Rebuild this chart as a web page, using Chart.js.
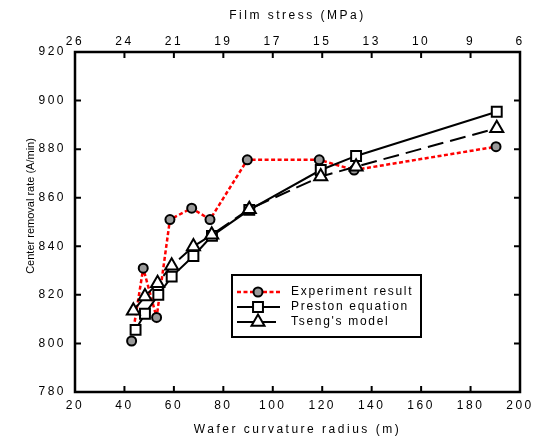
<!DOCTYPE html>
<html>
<head>
<meta charset="utf-8">
<title>Center removal rate vs wafer curvature radius</title>
<script src="https://cdn.jsdelivr.net/npm/chart.js"></script>
<style>
  body { margin: 0; background: #fff; }
</style>
</head>
<body>
<canvas id="rateChart" width="539" height="437"></canvas>
<script>
// tick labels
const radiusTicks = [20, 40, 60, 80, 100, 120, 140, 160, 180, 200];
const rateTicks = [780, 800, 820, 840, 860, 880, 900, 920];
const stressLabels = ['26', '24', '21', '19', '17', '15', '13', '10', '9', '6'];

// Experiment result
const expRadius = [42.9, 47.6, 53.0, 58.4, 67.2, 74.6, 89.7, 118.8, 132.9, 190.3];
const expRate = [801, 831, 810.7, 851, 855.7, 851, 875.6, 875.6, 871.4, 881];

// Preston equation
const prestonRadius = [44.5, 48.3, 53.7, 59.1, 67.9, 75.4, 90.5, 119.4, 133.7, 190.6];
const prestonRate = [805.6, 812.2, 820, 827.5, 836, 844.3, 855, 871.4, 877.2, 895.4];

// Tseng's model
const tsengRadius = [43.6, 48.3, 53.4, 59.1, 67.9, 75.3, 90.5, 119.4, 133.7, 190.6];
const tsengRate = [813.5, 819.3, 824.8, 832, 839.9, 844.7, 855.3, 868.7, 872.8, 888.6];

function toPoints(xs, ys) {
    return xs.map((x, i) => ({ x: x, y: ys[i] }));
}

const FONT = "'Liberation Sans', Arial, sans-serif";

// frame with inward ticks on all four sides
const framePlugin = {
    id: 'frame',
    afterDatasetsDraw(chart) {
        const ctx = chart.ctx;
        const a = chart.chartArea;
        const len = 6;
        ctx.save();
        ctx.strokeStyle = '#000';
        ctx.lineWidth = 2;
        ctx.beginPath();
        chart.scales.x.ticks.forEach(t => {
            const px = chart.scales.x.getPixelForValue(t.value);
            ctx.moveTo(px, a.bottom); ctx.lineTo(px, a.bottom - len);
        });
        chart.scales.x2.ticks.forEach(t => {
            const px = chart.scales.x2.getPixelForValue(t.value);
            ctx.moveTo(px, a.top); ctx.lineTo(px, a.top + len);
        });
        chart.scales.y.ticks.forEach(t => {
            const py = chart.scales.y.getPixelForValue(t.value);
            ctx.moveTo(a.left, py); ctx.lineTo(a.left + len, py);
            ctx.moveTo(a.right, py); ctx.lineTo(a.right - len, py);
        });
        ctx.stroke();
        ctx.lineWidth = 2.5;
        ctx.strokeRect(a.left, a.top, a.right - a.left, a.bottom - a.top);
        ctx.restore();
    }
};

// boxed legend inside the plot, plus the y title
const boxLegend = {
    id: 'boxLegend',
    afterDraw(chart) {
        const ctx = chart.ctx;
        const x0 = 232, y0 = 275, w = 189, h = 62;
        ctx.save();
        ctx.letterSpacing = '1.7px';
        ctx.fillStyle = '#fff';
        ctx.fillRect(x0, y0, w, h);
        ctx.strokeStyle = '#000';
        ctx.lineWidth = 2;
        ctx.strokeRect(x0, y0, w, h);
        chart.data.datasets.forEach((ds, i) => {
            const y = y0 + 17 + i * 15;
            ctx.save();
            ctx.strokeStyle = ds.borderColor;
            ctx.lineWidth = ds.borderWidth;
            ctx.setLineDash(ds.borderDash || []);
            ctx.beginPath();
            ctx.moveTo(x0 + 5, y);
            ctx.lineTo(x0 + 48, y);
            ctx.stroke();
            ctx.setLineDash([]);
            ctx.fillStyle = ds.pointBackgroundColor;
            ctx.strokeStyle = ds.pointBorderColor;
            ctx.lineWidth = ds.pointBorderWidth;
            Chart.helpers.drawPoint(ctx, { pointStyle: ds.pointStyle, radius: ds.pointRadius, rotation: 0, borderWidth: ds.pointBorderWidth }, x0 + 26, y);
            ctx.restore();
            ctx.fillStyle = '#000';
            ctx.font = '12px ' + FONT;
            ctx.textBaseline = 'middle';
            ctx.fillText(ds.label, x0 + 59, y);
        });

        ctx.letterSpacing = '0px';
        ctx.translate(31, 206);
        ctx.rotate(-Math.PI / 2);
        ctx.font = '11px ' + FONT;
        ctx.textAlign = 'center';
        ctx.textBaseline = 'middle';
        ctx.fillStyle = '#000';
        ctx.fillText('Center removal rate (A/min)', 0, 0);
        ctx.restore();
    }
};

// wide letter spacing like the original figure
const spacing = {
    id: 'spacing',
    beforeDraw(chart) { chart.ctx.letterSpacing = '2.5px'; },
    afterDraw(chart) { chart.ctx.letterSpacing = '0px'; }
};

const tickFont = { family: FONT, size: 12 };

new Chart(document.getElementById('rateChart'), {
    type: 'scatter',
    data: {
        datasets: [
            {
                label: 'Experiment result',
                data: toPoints(expRadius, expRate),
                showLine: true,
                borderColor: '#ff0000',
                borderWidth: 2.5,
                borderDash: [4, 2.5],
                pointStyle: 'circle',
                pointRadius: 4.5,
                pointBackgroundColor: '#9a9a9a',
                pointBorderColor: '#000',
                pointBorderWidth: 2,
                order: 3
            },
            {
                label: 'Preston equation',
                data: toPoints(prestonRadius, prestonRate),
                showLine: true,
                borderColor: '#000',
                borderWidth: 2,
                pointStyle: 'rect',
                pointRadius: 7,
                pointBackgroundColor: '#fff',
                pointBorderColor: '#000',
                pointBorderWidth: 2,
                order: 2
            },
            {
                label: "Tseng's model",
                data: toPoints(tsengRadius, tsengRate),
                showLine: true,
                borderColor: '#000',
                borderWidth: 2,
                borderDash: [16, 7],
                pointStyle: 'triangle',
                pointRadius: 7.5,
                pointBackgroundColor: '#fff',
                pointBorderColor: '#000',
                pointBorderWidth: 2,
                order: 1
            }
        ]
    },
    options: {
        responsive: false,
        animation: false,
        layout: { padding: { left: 0, right: 19, top: 0, bottom: 0 } },
        plugins: {
            legend: { display: false },
            tooltip: { enabled: false }
        },
        scales: {
            x: {
                type: 'linear',
                position: 'bottom',
                min: 20,
                max: 200,
                afterBuildTicks: s => { s.ticks = radiusTicks.map(v => ({ value: v })); },
                ticks: { font: tickFont, color: '#000', padding: 6, maxRotation: 0, autoSkip: false },
                grid: { display: false, drawTicks: false },
                border: { display: false },
                title: { display: true, text: 'Wafer curvature radius (m)', font: { family: FONT, size: 12 }, color: '#000', padding: { top: 0, bottom: 0 } },
                afterFit: s => { s.height = 45; }
            },
            x2: {
                type: 'linear',
                position: 'top',
                min: 20,
                max: 200,
                afterBuildTicks: s => { s.ticks = radiusTicks.map(v => ({ value: v })); },
                ticks: { font: tickFont, color: '#000', padding: 3, maxRotation: 0, autoSkip: false,
                         callback: (v, i) => stressLabels[i] },
                grid: { display: false, drawTicks: false },
                border: { display: false },
                title: { display: true, text: 'Film stress (MPa)', font: { family: FONT, size: 12 }, color: '#000', padding: { top: 8, bottom: 0 } },
                afterFit: s => { s.height = 52; }
            },
            y: {
                min: 780,
                max: 920,
                afterBuildTicks: s => { s.ticks = rateTicks.map(v => ({ value: v })); },
                ticks: { font: tickFont, color: '#000', padding: 9, autoSkip: false },
                grid: { display: false, drawTicks: false },
                border: { display: false },
                title: { display: false },
                afterFit: s => { s.width = 75; }
            }
        }
    },
    plugins: [spacing, framePlugin, boxLegend]
});
</script>
</body>
</html>
